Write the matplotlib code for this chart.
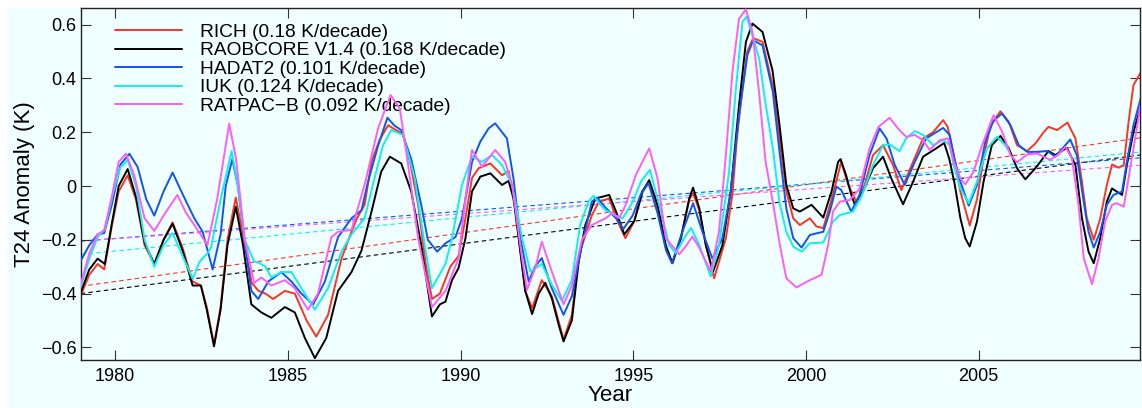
import numpy as np
import matplotlib
matplotlib.use('Agg')
import matplotlib.pyplot as plt
from matplotlib.patches import Rectangle
from matplotlib.ticker import FuncFormatter

plt.rcParams['font.family'] = ['Liberation Sans', 'DejaVu Sans']

# ---- data (year, anomaly K) ----
rich_year = [1978.99, 1979.25, 1979.49, 1979.68, 1979.9, 1980.1, 1980.36, 1980.6, 1980.85, 1981.13, 1981.4, 1981.66,
             1981.95, 1982.24, 1982.48, 1982.65, 1982.86, 1983.05, 1983.25, 1983.49, 1983.75, 1983.95, 1984.15,
             1984.35, 1984.57, 1984.91, 1985.2, 1985.54, 1985.82, 1986.16, 1986.55, 1986.84, 1987.0, 1987.22,
             1987.42, 1987.65, 1987.9, 1988.1, 1988.33, 1988.55, 1988.77, 1989.0, 1989.17, 1989.4, 1989.7,
             1989.94, 1990.14, 1990.33, 1990.52, 1990.86, 1991.2, 1991.39, 1991.58, 1991.87, 1992.07, 1992.35,
             1992.64, 1992.98, 1993.22, 1993.42, 1993.8, 1994.0, 1994.3, 1994.54, 1994.77, 1995.03, 1995.25,
             1995.46, 1995.7, 1995.94, 1996.13, 1996.38, 1996.62, 1996.73, 1996.91, 1997.1, 1997.34, 1997.68,
             1997.87, 1998.0, 1998.16, 1998.3, 1998.47, 1998.74, 1999.04, 1999.23, 1999.43, 1999.63, 1999.82,
             2000.0, 2000.11, 2000.3, 2000.5, 2000.74, 2001.02, 2001.22, 2001.46, 2001.7, 2001.94, 2002.23,
             2002.52, 2002.76, 2003.1, 2003.39, 2003.68, 2003.97, 2004.1, 2004.28, 2004.47, 2004.74, 2004.95,
             2005.14, 2005.34, 2005.63, 2005.87, 2006.11, 2006.4, 2006.64, 2006.88, 2007.02, 2007.27, 2007.57,
             2007.8, 2007.99, 2008.13, 2008.33, 2008.52, 2008.71, 2008.86, 2009.05, 2009.2, 2009.34, 2009.48,
             2009.7]
rich_val = [-0.41, -0.33, -0.29, -0.31, -0.15, -0.02, 0.04, -0.05, -0.22, -0.29, -0.2, -0.135,
            -0.23, -0.355, -0.37, -0.45, -0.59, -0.45, -0.2, -0.043, -0.22, -0.36, -0.39,
            -0.40, -0.42, -0.39, -0.40, -0.50, -0.56, -0.48, -0.27, -0.17, -0.12, -0.07,
            0.09, 0.17, 0.226, 0.21, 0.195, 0.08, -0.07, -0.30, -0.42, -0.40, -0.30,
            -0.26, -0.12, 0.03, 0.066, 0.084, 0.04, 0.056, -0.08, -0.39, -0.454, -0.35,
            -0.41, -0.57, -0.48, -0.26, -0.108, -0.06, -0.046, -0.13, -0.194, -0.13, -0.02,
            0.016, -0.08, -0.23, -0.287, -0.19, -0.05, -0.027, -0.09, -0.22, -0.343, -0.194,
            -0.03, 0.18, 0.36, 0.50, 0.55, 0.536, 0.37, 0.18, -0.02, -0.12, -0.145,
            -0.13, -0.12, -0.15, -0.157, -0.05, 0.09, 0.005, -0.058, 0.005, 0.115, 0.152,
            0.078, -0.015, 0.09, 0.177, 0.2, 0.245, 0.22, 0.115, -0.021, -0.147, -0.05,
            0.103, 0.226, 0.278, 0.239, 0.152, 0.13, 0.158, 0.2, 0.22, 0.208, 0.236,
            0.177, 0.016, -0.12, -0.2, -0.12, 0.004, 0.08, 0.068, 0.078, 0.239, 0.375,
            0.424]

raob_year = [1978.99, 1979.25, 1979.49, 1979.7, 1979.9, 1980.1, 1980.36, 1980.6, 1980.85, 1981.13, 1981.4, 1981.66,
             1981.95, 1982.24, 1982.48, 1982.65, 1982.86, 1983.05, 1983.25, 1983.49, 1983.7, 1983.94, 1984.23,
             1984.52, 1984.91, 1985.2, 1985.49, 1985.78, 1986.11, 1986.45, 1986.84, 1987.13, 1987.42, 1987.7,
             1987.95, 1988.28, 1988.57, 1988.86, 1989.17, 1989.4, 1989.56, 1989.75, 1989.94, 1990.14, 1990.33,
             1990.57, 1990.86, 1991.2, 1991.39, 1991.53, 1991.68, 1991.87, 1992.07, 1992.26, 1992.45, 1992.64,
             1992.84, 1992.98, 1993.22, 1993.42, 1993.61, 1993.9, 1994.1, 1994.3, 1994.5, 1994.74, 1995.03,
             1995.27, 1995.46, 1995.7, 1995.94, 1996.13, 1996.38, 1996.62, 1996.73, 1996.91, 1997.1, 1997.31,
             1997.58, 1997.82, 1998.06, 1998.26, 1998.45, 1998.74, 1999.03, 1999.23, 1999.43, 1999.63, 1999.82,
             2000.16, 2000.5, 2000.74, 2000.93, 2001.0, 2001.16, 2001.31, 2001.41, 2001.65, 2001.94, 2002.23,
             2002.47, 2002.81, 2003.1, 2003.39, 2003.77, 2004.0, 2004.15, 2004.3, 2004.47, 2004.61, 2004.74,
             2004.95, 2005.14, 2005.38, 2005.63, 2005.87, 2006.11, 2006.35, 2006.64, 2007.02, 2007.22, 2007.55,
             2007.8, 2007.99, 2008.18, 2008.33, 2008.52, 2008.71, 2008.86, 2009.0, 2009.15, 2009.29, 2009.48,
             2009.7]
raob_val = [-0.40, -0.31, -0.27, -0.29, -0.14, 0.0, 0.063, -0.04, -0.21, -0.29, -0.2, -0.14,
            -0.24, -0.37, -0.37, -0.46, -0.596, -0.46, -0.22, -0.077, -0.22, -0.44, -0.47,
            -0.49, -0.45, -0.47, -0.565, -0.64, -0.565, -0.39, -0.32, -0.24, -0.095, 0.053,
            0.109, 0.084, -0.02, -0.22, -0.485, -0.44, -0.43, -0.35, -0.305, -0.194, -0.02,
            0.035, 0.047, 0.004, 0.019, -0.046, -0.194, -0.39, -0.476, -0.40, -0.36, -0.417,
            -0.516, -0.578, -0.50, -0.28, -0.145, -0.046, -0.04, -0.033, -0.095, -0.18, -0.13,
            -0.02, 0.022, -0.07, -0.22, -0.287, -0.194, -0.046, -0.006, -0.083, -0.22, -0.318,
            -0.22, -0.02, 0.3, 0.536, 0.604, 0.573, 0.43, 0.23, 0.004, -0.083, -0.095,
            -0.07, -0.117, -0.02, 0.09, 0.10, 0.04, -0.033, -0.068, -0.02, 0.066, 0.109,
            0.028, -0.068, 0.016, 0.109, 0.14, 0.16, 0.1, 0.01, -0.12, -0.194, -0.225,
            -0.132, 0.016, 0.152, 0.186, 0.14, 0.066, 0.025, 0.066, 0.13, 0.115, 0.142,
            0.078, -0.12, -0.244, -0.287, -0.194, -0.058, -0.009, -0.021, -0.033, 0.078, 0.2,
            0.3]

hadat_year = [1978.99, 1979.25, 1979.49, 1979.68, 1979.9, 1980.15, 1980.41, 1980.65, 1980.9, 1981.13, 1981.4,
              1981.66, 1981.95, 1982.29, 1982.53, 1982.82, 1983.05, 1983.2, 1983.39, 1983.55, 1983.73, 1983.94,
              1984.14, 1984.43, 1984.81, 1985.1, 1985.39, 1985.73, 1986.07, 1986.45, 1986.84, 1987.13, 1987.32,
              1987.61, 1987.88, 1988.08, 1988.28, 1988.57, 1988.86, 1989.05, 1989.32, 1989.56, 1989.85, 1990.04,
              1990.33, 1990.57, 1990.81, 1991.0, 1991.34, 1991.53, 1991.73, 1991.97, 1992.15, 1992.35, 1992.64,
              1992.98, 1993.22, 1993.51, 1993.8, 1993.95, 1994.19, 1994.5, 1994.71, 1994.98, 1995.22, 1995.44,
              1995.7, 1995.95, 1996.12, 1996.42, 1996.73, 1997.0, 1997.29, 1997.58, 1997.82, 1998.06, 1998.3,
              1998.47, 1998.74, 1999.04, 1999.23, 1999.43, 1999.63, 1999.87, 2000.11, 2000.5, 2000.69, 2000.88,
              2001.02, 2001.31, 2001.55, 2001.84, 2002.13, 2002.33, 2002.57, 2002.86, 2003.15, 2003.48, 2003.97,
              2004.16, 2004.28, 2004.47, 2004.71, 2004.95, 2005.19, 2005.42, 2005.67, 2005.92, 2006.16, 2006.4,
              2006.69, 2006.98, 2007.22, 2007.65, 2007.84, 2008.04, 2008.18, 2008.33, 2008.52, 2008.71, 2008.9,
              2009.15, 2009.29, 2009.48, 2009.7]
hadat_val = [-0.28, -0.22, -0.18, -0.175, -0.07, 0.08, 0.12, 0.07, -0.05, -0.11, -0.02,
             0.05, -0.03, -0.12, -0.17, -0.31, -0.18, 0.0, 0.10, 0.0, -0.19, -0.39,
             -0.42, -0.355, -0.32, -0.355, -0.40, -0.44, -0.355, -0.19, -0.12, -0.09, 0.016,
             0.15, 0.254, 0.225, 0.208, 0.10, -0.07, -0.2, -0.244, -0.213, -0.19, -0.12,
             0.09, 0.165, 0.214, 0.233, 0.177, 0.028, -0.194, -0.355, -0.30, -0.268, -0.38,
             -0.479, -0.41, -0.22, -0.058, -0.043, -0.08, -0.12, -0.16, -0.11, -0.03, 0.01,
             -0.1, -0.24, -0.287, -0.17, -0.064, -0.17, -0.27, -0.194, -0.02, 0.263, 0.486,
             0.542, 0.523, 0.35, 0.13, -0.083, -0.194, -0.229, -0.182, -0.17, -0.095, -0.002,
             -0.015, -0.095, -0.033, 0.115, 0.214, 0.177, 0.078, 0.004, 0.09, 0.177, 0.216,
             0.19, 0.11, 0.016, -0.073, 0.004, 0.165, 0.24, 0.27, 0.226, 0.152, 0.127,
             0.127, 0.13, 0.109, 0.173, 0.115, -0.058, -0.17, -0.229, -0.17, -0.07, -0.033,
             -0.021, 0.09, 0.226, 0.33]

iuk_year = [1978.99, 1979.25, 1979.49, 1979.7, 1979.95, 1980.15, 1980.36, 1980.6, 1980.85, 1981.13, 1981.4,
            1981.66, 1981.95, 1982.24, 1982.45, 1982.67, 1982.77, 1983.05, 1983.37, 1983.55, 1983.75, 1984.02,
            1984.19, 1984.35, 1984.52, 1984.81, 1985.1, 1985.39, 1985.78, 1986.16, 1986.55, 1986.84, 1987.22,
            1987.51, 1987.75, 1987.99, 1988.33, 1988.67, 1988.96, 1989.17, 1989.56, 1989.75, 1990.04, 1990.33,
            1990.62, 1990.91, 1991.2, 1991.49, 1991.78, 1992.02, 1992.35, 1992.64, 1992.93, 1993.22, 1993.46,
            1993.7, 1993.85, 1994.05, 1994.2, 1994.45, 1994.69, 1994.98, 1995.22, 1995.48, 1995.75, 1996.04,
            1996.23, 1996.47, 1996.67, 1996.91, 1997.24, 1997.48, 1997.77, 1997.97, 1998.16, 1998.28, 1998.45,
            1998.65, 1998.8, 1999.04, 1999.23, 1999.43, 1999.63, 1999.87, 2000.11, 2000.5, 2000.78, 2000.98,
            2001.36, 2001.6, 2001.94, 2002.23, 2002.42, 2002.71, 2002.9, 2003.15, 2003.39, 2003.68, 2003.97,
            2004.16, 2004.28, 2004.47, 2004.71, 2004.95, 2005.24, 2005.53, 2005.77, 2005.87]
iuk_val = [-0.38, -0.27, -0.19, -0.16, -0.02, 0.07, 0.097, 0.0, -0.2, -0.30, -0.22,
           -0.175, -0.26, -0.345, -0.28, -0.25, -0.23, -0.05, 0.13, 0.0, -0.2, -0.28,
           -0.287, -0.3, -0.34, -0.32, -0.32, -0.38, -0.46, -0.38, -0.244, -0.18, -0.12,
           0.03, 0.15, 0.208, 0.19, 0.03, -0.22, -0.38, -0.29, -0.194, 0.004, 0.11,
           0.09, 0.115, 0.078, 0.004, -0.194, -0.318, -0.29, -0.367, -0.427, -0.35, -0.145,
           -0.058, -0.036, -0.07, -0.09, -0.108, -0.12, -0.06, 0.016, 0.06, -0.07, -0.22,
           -0.25, -0.194, -0.155, -0.22, -0.336, -0.22, 0.05, 0.362, 0.61, 0.63, 0.56,
           0.47, 0.33, 0.14, -0.06, -0.17, -0.225, -0.244, -0.213, -0.21, -0.132, -0.108,
           -0.095, -0.04, 0.078, 0.152, 0.155, 0.13, 0.177, 0.204, 0.19, 0.152, 0.171,
           0.152, 0.075, -0.009, -0.064, 0.016, 0.14, 0.183, 0.152, 0.13]

ratpac_year = [1978.99, 1979.25, 1979.49, 1979.68, 1979.9, 1980.1, 1980.31, 1980.55, 1980.85, 1981.13, 1981.45,
               1981.8, 1982.05, 1982.29, 1982.67, 1982.95, 1983.3, 1983.5, 1983.75, 1984.02, 1984.23, 1984.52,
               1984.91, 1985.2, 1985.58, 1985.87, 1986.26, 1986.45, 1986.84, 1987.22, 1987.61, 1987.97, 1988.24,
               1988.48, 1988.77, 1989.17, 1989.56, 1989.94, 1990.14, 1990.33, 1990.62, 1991.0, 1991.29, 1991.49,
               1991.78, 1991.92, 1992.16, 1992.35, 1992.64, 1992.98, 1993.22, 1993.51, 1993.8, 1994.0, 1994.2,
               1994.4, 1994.59, 1994.78, 1995.07, 1995.46, 1995.7, 1995.94, 1996.33, 1996.54, 1996.71, 1996.91,
               1997.24, 1997.48, 1997.68, 1997.87, 1998.06, 1998.26, 1998.45, 1998.64, 1998.83, 1999.04, 1999.23,
               1999.43, 1999.72, 2000.11, 2000.45, 2000.64, 2000.78, 2000.98, 2001.27, 2001.55, 2001.84, 2002.1,
               2002.42, 2002.66, 2002.9, 2003.15, 2003.39, 2003.58, 2003.87, 2004.11, 2004.28, 2004.47, 2004.61,
               2004.85, 2005.1, 2005.43, 2005.68, 2005.92, 2006.11, 2006.4, 2006.69, 2007.07, 2007.31, 2007.51,
               2007.7, 2007.89, 2008.04, 2008.28, 2008.47, 2008.66, 2008.86, 2009.0, 2009.2, 2009.34, 2009.53,
               2009.7]
ratpac_val = [-0.37, -0.25, -0.18, -0.165, -0.04, 0.09, 0.12, 0.04, -0.12, -0.167, -0.1,
              -0.033, -0.1, -0.145, -0.22, -0.05, 0.232, 0.1, -0.2, -0.36, -0.34, -0.37,
              -0.35, -0.38, -0.46, -0.40, -0.19, -0.17, -0.163, 0.004, 0.214, 0.338, 0.288,
              0.078, -0.194, -0.45, -0.39, -0.27, -0.046, 0.134, 0.072, 0.134, 0.09, 0.004,
              -0.27, -0.386, -0.305, -0.207, -0.318, -0.44, -0.37, -0.2, -0.145, -0.132, -0.12,
              -0.1, -0.12, -0.07, 0.04, 0.14, 0.03, -0.194, -0.254, -0.22, -0.188, -0.23,
              -0.318, -0.17, 0.115, 0.424, 0.622, 0.657, 0.573, 0.35, 0.09, -0.06, -0.21,
              -0.343, -0.377, -0.35, -0.33, -0.22, -0.095, -0.058, -0.052, -0.01, 0.14, 0.22,
              0.254, 0.214, 0.183, 0.19, 0.17, 0.134, 0.17, 0.177, 0.09, 0.028, 0.006,
              0.053, 0.152, 0.263, 0.202, 0.115, 0.088, 0.117, 0.121, 0.097, 0.117, 0.146,
              0.103, -0.07, -0.268, -0.365, -0.268, -0.132, -0.07, -0.064, -0.077, 0.03, 0.177,
              0.313]

labels = ['RICH (0.18 K/decade)', 'RAOBCORE V1.4 (0.168 K/decade)', 'HADAT2 (0.101 K/decade)',
          'IUK (0.124 K/decade)', 'RATPAC\u2212B (0.092 K/decade)']
colors = ['#ff3322', '#000000', '#1155ee', '#11eeee', '#ff5cff']
# linear trends: value at start of 1979 and rate (K/decade)
trend_start = [-0.373, -0.40, -0.205, -0.254, -0.205]
trend_rate = [0.18, 0.168, 0.101, 0.124, 0.092]

years = [rich_year, raob_year, hadat_year, iuk_year, ratpac_year]
vals = [rich_val, raob_val, hadat_val, iuk_val, ratpac_val]

fig = plt.figure(figsize=(11.42, 4.08), dpi=100, facecolor='white')
fig.patches.append(Rectangle((7 / 1142, 0), 1, 1 - 8 / 408, transform=fig.transFigure,
                             facecolor='#f0ffff', edgecolor='none', zorder=-10))
ax = fig.add_axes([80.7 / 1142, 1 - 359.5 / 408, (1140 - 80.7) / 1142, (359.5 - 8.5) / 408])
ax.set_facecolor('#f0ffff')

x0, x1 = 1979.0, 2009.67
tx = np.array([x0, x1])
for i in range(5):
    ax.plot(tx, trend_start[i] + trend_rate[i] / 10 * (tx - x0), '--', color=colors[i], lw=0.8,
            dashes=(4, 3), zorder=1)

handles = []
for i in range(5):
    h, = ax.plot(years[i], vals[i], color=colors[i], lw=1.4, label=labels[i], zorder=2 + i,
                 solid_joinstyle='round', solid_capstyle='round')
    handles.append(h)

ax.set_xlim(x0, x1)
ax.set_ylim(-0.645, 0.66)
ax.set_xticks(range(1980, 2010, 5))
ax.set_yticks(np.arange(-0.6, 0.61, 0.2))
ax.yaxis.set_major_formatter(FuncFormatter(lambda v, p: ('%g' % round(v, 1)).replace('-', '\u2212')))
ax.tick_params(direction='in', length=7, width=0.8, top=True, right=True, labelsize=13, colors='#333333',
               labelcolor='black')
ax.tick_params(axis='y', pad=3)
ax.tick_params(axis='x', pad=6)
for s in ax.spines.values():
    s.set_color('#222222')
    s.set_linewidth(1.0)

ax.set_xlabel('Year', fontsize=16, labelpad=0)
ax.set_ylabel('T24 Anomaly (K)', fontsize=16, labelpad=4)

# legend rows ~18.5 px apart, first row centred ~30 px from top
ax.legend(handles=handles, loc='upper left', bbox_to_anchor=(0.032, 0.958), frameon=False, fontsize=13.8,
          handlelength=3.5, handletextpad=0.95, labelspacing=0.06, borderpad=0, borderaxespad=0)

plt.savefig('out.png', dpi=100, facecolor=fig.get_facecolor())
plt.close()
